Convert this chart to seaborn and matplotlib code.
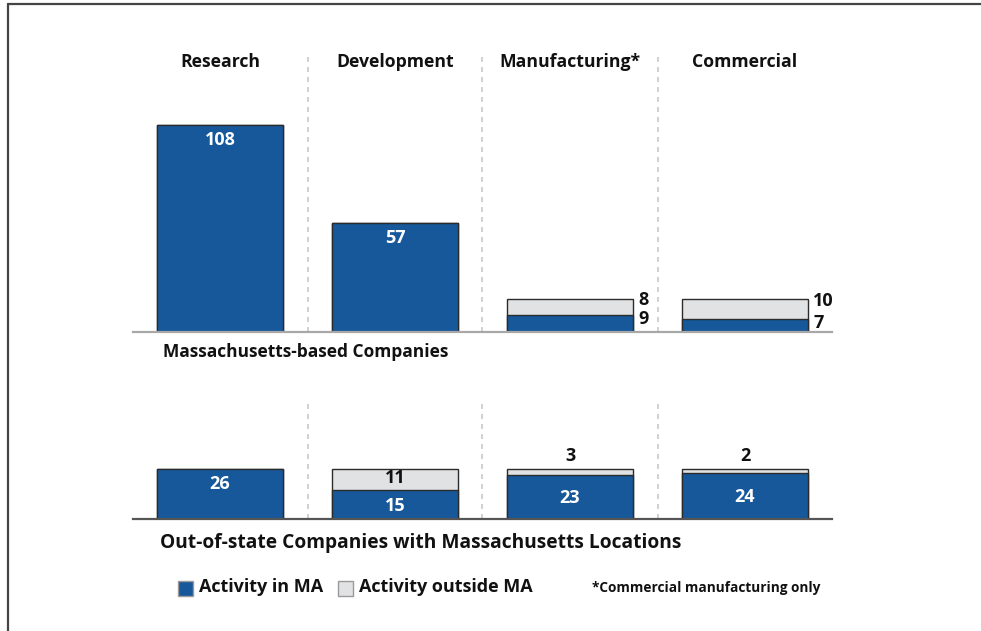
import matplotlib
matplotlib.use("Agg")
import matplotlib.pyplot as plt
import seaborn as sns
import pandas as pd
from matplotlib.patches import Rectangle

stages = ["Research", "Development", "Manufacturing*", "Commercial"]
ma_in_ma = [108, 57, 9, 7]
ma_outside = [0, 0, 8, 10]
oos_in_ma = [26, 15, 23, 24]
oos_outside = [0, 11, 3, 2]
panel_titles = ["Massachusetts-based Companies",
                "Out-of-state Companies with Massachusetts Locations"]
legend_labels = ["Activity in MA", "Activity outside MA"]
footnote = "*Commercial manufacturing only"

BLUE = "#17589B"
GRAY = "#E1E2E4"
EDGE = "#2b2b2b"

sns.set_theme(style="white")
plt.rcParams["font.family"] = ["Open Sans", "DejaVu Sans"]
plt.rcParams["font.weight"] = "bold"

W, H = 981, 631
fig = plt.figure(figsize=(W / 100, H / 100), dpi=100)
fig.patch.set_facecolor("white")

# frame lines (left and top)
fig.add_artist(plt.Line2D([8 / W, 8 / W], [0, 1 - 4 / H], transform=fig.transFigure,
                          color="#444444", lw=1.6))
fig.add_artist(plt.Line2D([8 / W, 1], [1 - 4 / H, 1 - 4 / H], transform=fig.transFigure,
                          color="#444444", lw=1.6))

SCALE = 1.917  # px per unit
NUM_FS = 13


def make_axes(base_px, top_px):
    return fig.add_axes([132.5 / W, 1 - base_px / H, 700 / W, (base_px - top_px) / H])


def draw_panel(ax, in_ma, outside, base_px, div_top_px, top_px, baseline_color):
    total = [a + b for a, b in zip(in_ma, outside)]
    df_tot = pd.DataFrame({"stage": stages, "value": total})
    df_in = pd.DataFrame({"stage": stages, "value": in_ma})
    sns.barplot(data=df_tot, x="stage", y="value", color=GRAY, width=0.72,
                edgecolor=EDGE, linewidth=1.0, saturation=1, ax=ax)
    sns.barplot(data=df_in, x="stage", y="value", color=BLUE, width=0.72,
                edgecolor=EDGE, linewidth=1.0, saturation=1, ax=ax)
    ax.set_xlim(-0.5, 3.5)
    ax.set_ylim(0, (base_px - top_px) / SCALE)
    ax.set_xlabel("")
    ax.set_ylabel("")
    ax.set_xticks([])
    ax.set_yticks([])
    for s in ["top", "left", "right"]:
        ax.spines[s].set_visible(False)
    ax.spines["bottom"].set_color(baseline_color)
    ax.spines["bottom"].set_linewidth(1.6)
    ax.patch.set_alpha(0)
    div_top = (base_px - div_top_px) / SCALE
    ax.vlines([0.5, 1.5, 2.5], 0, div_top, colors="#c8c8c8",
              linestyles=(0, (3, 3)), linewidth=1.2)
    return total


# ---- top panel
ax1 = make_axes(332, 40)
tot1 = draw_panel(ax1, ma_in_ma, ma_outside, 332, 52, 40, "#a8a8a8")
for i, name in enumerate(stages):
    ax1.text(i, (332 - 62) / SCALE, name, ha="center", va="center",
             fontsize=12.7, fontweight="bold", color="#111111")
for i in range(2):
    ax1.text(i, ma_in_ma[i] - 8, str(ma_in_ma[i]), ha="center", va="center",
             fontsize=NUM_FS, fontweight="bold", color="white")
out_dy = [0, 0, -0.3, -0.8]
in_dy = [0, 0, -2.2, -2.3]
for i in range(2, 4):
    ax1.text(i + 0.39, tot1[i] + out_dy[i], str(ma_outside[i]), ha="left", va="center",
             fontsize=NUM_FS, fontweight="bold", color="#111111")
    ax1.text(i + 0.39, ma_in_ma[i] + in_dy[i], str(ma_in_ma[i]), ha="left", va="center",
             fontsize=NUM_FS, fontweight="bold", color="#111111")
fig.text(163 / W, 1 - 352 / H, panel_titles[0], ha="left", va="center",
         fontsize=12.5, fontweight="bold", color="#111111")

# ---- bottom panel
ax2 = make_axes(519, 395)
tot2 = draw_panel(ax2, oos_in_ma, oos_outside, 519, 403, 395, "#555555")
ax2.text(0, oos_in_ma[0] - 7.5, str(oos_in_ma[0]), ha="center", va="center",
         fontsize=NUM_FS, fontweight="bold", color="white")
ax2.text(1, oos_in_ma[1] + oos_outside[1] / 2 + 1, str(oos_outside[1]),
         ha="center", va="center", fontsize=NUM_FS, fontweight="bold", color="#111111")
ax2.text(1, oos_in_ma[1] / 2 - 0.5, str(oos_in_ma[1]), ha="center", va="center",
         fontsize=NUM_FS, fontweight="bold", color="white")
for i in range(2, 4):
    ax2.text(i, tot2[i] + 7, str(oos_outside[i]), ha="center", va="center",
             fontsize=NUM_FS, fontweight="bold", color="#111111")
    ax2.text(i, oos_in_ma[i] / 2 - 0.5, str(oos_in_ma[i]), ha="center", va="center",
             fontsize=NUM_FS, fontweight="bold", color="white")
fig.text(160 / W, 1 - 543 / H, panel_titles[1], ha="left", va="center",
         fontsize=13.8, fontweight="bold", color="#111111")

# ---- legend
sq = 15
for x0, col, lab in [(178, BLUE, legend_labels[0]), (338, GRAY, legend_labels[1])]:
    fig.add_artist(Rectangle((x0 / W, 1 - (588 + sq / 2) / H), sq / W, sq / H,
                             transform=fig.transFigure, facecolor=col,
                             edgecolor="#9a9a9a", linewidth=1.0))
    fig.text((x0 + sq + 6) / W, 1 - 587 / H, lab, ha="left", va="center",
             fontsize=13, fontweight="bold", color="#111111")
fig.text(592 / W, 1 - 588 / H, footnote, ha="left", va="center",
         fontsize=9.85, fontweight="bold", color="#111111")

fig.savefig("out.png", dpi=100, facecolor="white")
